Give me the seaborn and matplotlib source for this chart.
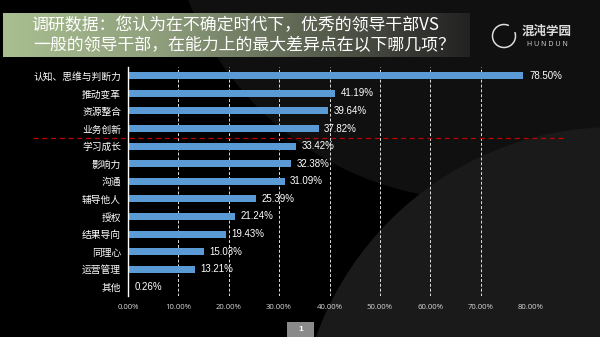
import numpy as np
import pandas as pd
import matplotlib
matplotlib.use("Agg")
import matplotlib.pyplot as plt
import seaborn as sns
from matplotlib.patches import Circle, Rectangle, Arc
from matplotlib.colors import LinearSegmentedColormap

# ---------------- data ----------------
categories = ["认知、思维与判断力", "推动变革", "资源整合", "业务创新", "学习成长",
              "影响力", "沟通", "辅导他人", "授权", "结果导向", "同理心", "运营管理", "其他"]
values = [78.50, 41.19, 39.64, 37.82, 33.42, 32.38, 31.09, 25.39, 21.24, 19.43, 15.03, 13.21, 0.26]
x_ticks = [0, 10, 20, 30, 40, 50, 60, 70, 80]
x_tick_labels = [f"{t:.2f}%" for t in x_ticks]
title_lines = ["调研数据：您认为在不确定时代下，优秀的领导干部VS",
               "一般的领导干部，在能力上的最大差异点在以下哪几项？"]
logo_cn = "混沌学园"
logo_en = "H U N D U N"
page_no = "1"

df = pd.DataFrame({"cat": categories, "val": values})

sns.set_theme(style="white")
plt.rcParams['font.family'] = ['Noto Sans CJK SC', 'DejaVu Sans']

W, H = 600, 337
fig = plt.figure(figsize=(W / 100, H / 100), dpi=100, facecolor="black")

# ---------------- background (pixel coordinates) ----------------
bg = fig.add_axes([0, 0, 1, 1], zorder=-1)
bg.set_xlim(0, W)
bg.set_ylim(H, 0)
bg.axis("off")
bg.set_facecolor("black")
bg.add_patch(Rectangle((0, 0), W, H, color="black", zorder=0))
bg.add_patch(Circle((480, -113), 313, color="#101010", zorder=1, lw=0))
bg.add_patch(Circle((615, 445), 318, color="#1a1a1a", zorder=2, lw=0))

# title banner gradient
cmap = LinearSegmentedColormap.from_list(
    "ban", [(0, "#a9bf90"), (0.35, "#8d9d7b"), (0.65, "#5d6452"), (0.85, "#3b3c37"), (1, "#222222")])
grad = np.linspace(0, 1, 256).reshape(1, -1)
bg.imshow(grad, cmap=cmap, extent=[3, 470, 57, 13], aspect="auto", zorder=3)
bg.text(31, 25, title_lines[0], color="white", fontsize=12.2, va="center", ha="left", zorder=4)
bg.text(33, 45, title_lines[1], color="white", fontsize=12.2, va="center", ha="left", zorder=4)

# logo
bg.add_patch(Arc((504, 36), 23, 23, theta1=-20, theta2=295, color="#dddddd", lw=1.1, zorder=4))
bg.text(547, 31, logo_cn, color="#dddddd", fontsize=9, fontweight="bold", ha="center", va="center", zorder=4)
bg.text(547, 44, logo_en, color="#cccccc", fontsize=5, ha="center", va="center", zorder=4,
        family=["Liberation Sans", "DejaVu Sans"])

# page number box
bg.add_patch(Rectangle((287, 322), 27, 15, color="#8a8a8a", zorder=4, lw=0))
bg.text(300.5, 329.5, page_no, color="white", fontsize=6, fontweight="bold",
        ha="center", va="center", zorder=5, family=["Liberation Sans", "DejaVu Sans"])

# ---------------- main chart ----------------
left, right, top, bottom = 128, 531, 67, 295.6
ax = fig.add_axes([left / W, 1 - bottom / H, (right - left) / W, (bottom - top) / H], zorder=2)
ax.set_facecolor("none")

sns.barplot(data=df, x="val", y="cat", orient="h", color="#5b9bd5", saturation=1,
            width=0.4, ax=ax, zorder=3, linewidth=0, edgecolor="none")

ax.set_xlim(0, 80)
ax.set_ylim(len(categories) - 0.5, -0.5)
ax.set_xticks(x_ticks)
ax.set_xticklabels(x_tick_labels, fontsize=5.6, color="#d5d5d5",
                   family=["Open Sans", "DejaVu Sans"])
ax.set_xlabel("")
ax.set_ylabel("")
for lab in ax.get_yticklabels():
    lab.set_color("white")
    lab.set_fontsize(7)
    lab.set_fontweight("medium")
ax.tick_params(axis="both", length=0)
ax.tick_params(axis="y", pad=5)
ax.tick_params(axis="x", pad=6)

ax.xaxis.grid(True, linestyle=(0, (3, 2)), color="#e0e0e0", linewidth=0.7, zorder=1)
ax.yaxis.grid(False)
ax.set_axisbelow(True)
for s in ["top", "right", "bottom"]:
    ax.spines[s].set_visible(False)
ax.spines["left"].set_color("white")
ax.spines["left"].set_linewidth(1.0)
ax.spines["left"].set_zorder(4)

ax.bar_label(ax.containers[0], labels=[f"{v:.2f}%" for v in values], padding=4,
             color="white", fontsize=7, family=["Liberation Sans", "DejaVu Sans"])

# red dashed separator
xmin = (33 - left) / (right - left)
xmax = (563 - left) / (right - left)
ax.axhline(3.55, xmin=xmin, xmax=xmax, color="#c00000", linestyle=(0, (4, 3)),
           linewidth=0.9, clip_on=False, zorder=5)

fig.savefig("out.png", dpi=100, facecolor="black")
